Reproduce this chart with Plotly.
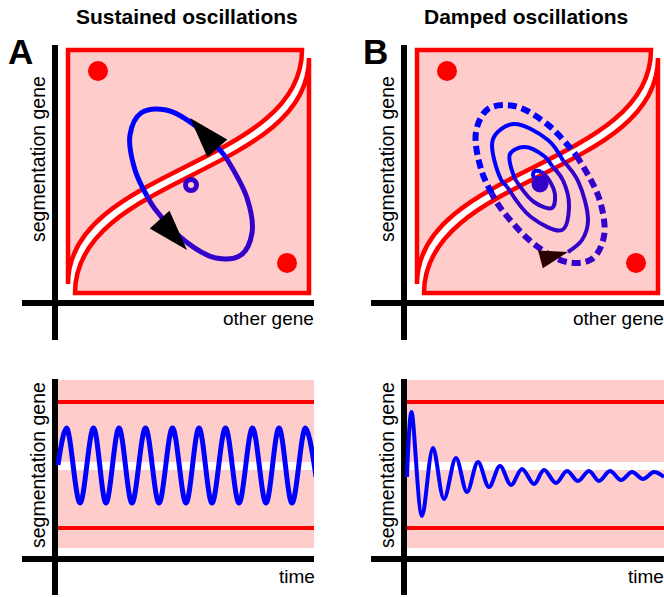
import plotly.graph_objects as go

W, H = 664, 597

# ---------------- data (arbitrary expression units, origin at the axes crossing) ----------------
# Phase-plane regions split by the nullcline: [corner, start, ctrl1, ctrl2, end] of a cubic curve
UPPER_REGION_X = [13, 247, 247, 13, 13]
UPPER_REGION_Y = [253, 253, 136.5, 135.5, 19]
LOWER_REGION_X = [254, 254, 254, 20, 20]
LOWER_REGION_Y = [10, 245, 128.5, 127.5, 10]
STABLE_STATE_X = [43, 232]
STABLE_STATE_Y = [232, 40]

# Panel A: limit cycle (part above nullcline / part below nullcline)
CYCLE_A_UPPER_X = [92, 80, 75, 86, 111, 142, 170]
CYCLE_A_UPPER_Y = [107, 133, 168, 190, 193, 176, 147]
CYCLE_A_LOWER_X = [170, 192, 197, 186, 161, 130, 100, 92]
CYCLE_A_LOWER_Y = [147, 105, 70, 48, 45, 62, 94, 107]
FIXED_A_X = [136]
FIXED_A_Y = [118]
ARROW_A_X = [135, 132]
ARROW_A_Y = [185, 53]
ARROW_A_ANGLE = [-42, 138]

# Panel B: dashed (unstable) cycle and solid spiral to the stable focus
DASHED_B_UPPER_X = [88, 77, 72, 84, 110, 143, 172]
DASHED_B_UPPER_Y = [109, 134, 171, 194, 197, 179, 148]
DASHED_B_LOWER_X = [172, 195, 200, 188, 163, 130, 98, 88]
DASHED_B_LOWER_Y = [148, 105, 67, 44, 41, 59, 93, 109]
SPIRAL_SEGMENTS = [  # (x list, y list, above_nullcline)
    ([164, 178, 184, 174, 159], [51, 63, 82, 122, 142.5], False),
    ([159, 144, 109, 89, 97, 103], [142.5, 163, 179, 164, 123.5, 116.5], True),
    ([103, 127, 158, 165, 159, 148], [116.5, 86, 73, 96, 122.5, 137], False),
    ([148, 140, 120, 106, 111], [137, 147, 156, 149, 124], True),
    ([111, 130, 148, 151, 145, 137], [124, 101, 95, 108, 123, 131.5], False),
    ([137, 131, 129, 133], [131.5, 132, 128, 122], True),
]
FIXED_B_X = [136]
FIXED_B_Y = [119]
ARROW_B_X = [164]
ARROW_B_Y = [51]
ARROW_B_ANGLE = [75]

# Time courses
SUSTAINED_T = [3, 11.5, 25, 38.5, 51, 64, 77, 90.5, 104, 117.5, 131, 144, 157, 170.5,
               184, 197.5, 211, 224, 237, 250.5, 261]
SUSTAINED_LEVEL = [94, 131, 56, 131, 56, 131, 56, 131, 56, 131, 56, 131, 56, 131,
                   56, 131, 56, 131, 56, 131, 82]
DAMPED_T = [3, 7.5, 18, 29, 40, 52, 63, 74, 85, 96, 107, 118, 130, 140, 152, 163,
            174, 185, 195, 206, 217, 228, 239, 250, 260]
DAMPED_LEVEL = [82, 147, 43, 111, 60, 101, 67, 97, 72, 93, 74, 90, 75, 89, 76, 88,
                78, 88, 78, 88, 79, 87, 80, 87, 82]
THRESHOLD_LEVELS = [157, 31]
PINK_BAND = [11, 179]
WHITE_BAND = [89, 97]

# ---------------- styles ----------------
PINK = "#ffcccc"
RED = "#ff0000"
BLUE = "#0000ff"
INDIGO = "#3300cc"
FONT = "Liberation Sans, Arial, sans-serif"

# panel geometry in pixels: (x0, x1, y0, y1, origin_x, origin_y)
PANELS = {
    "A_phase": ("x", "y", (22, 314, 45, 340, 55, 303)),
    "B_phase": ("x2", "y2", (371, 664, 45, 340, 404, 303)),
    "A_time": ("x3", "y3", (22, 314, 379, 595, 55, 559)),
    "B_time": ("x4", "y4", (371, 664, 379, 595, 404, 559)),
}

fig = go.Figure()
layout_axes = {}
for key, (xa, ya, (x0, x1, y0, y1, ox, oy)) in PANELS.items():
    xname = "xaxis" + xa[1:]
    yname = "yaxis" + ya[1:]
    common = dict(showgrid=False, showticklabels=False, ticks="", showline=False,
                  zeroline=True, zerolinecolor="black", zerolinewidth=5.5,
                  fixedrange=True, layer="above traces")
    layout_axes[xname] = dict(domain=[x0 / W, x1 / W], range=[x0 - ox, x1 - ox],
                              anchor=ya, **common)
    layout_axes[yname] = dict(domain=[(H - y1) / H, (H - y0) / H], range=[oy - y1, oy - y0],
                              anchor=xa, **common)

shapes = []


def region_path(xs, ys):
    return (f"M{xs[0]},{ys[0]} L{xs[1]},{ys[1]} "
            f"C{xs[2]},{ys[2]} {xs[3]},{ys[3]} {xs[4]},{ys[4]} Z")


def spline(xa, ya, x, y, color, width, dash=None):
    fig.add_trace(go.Scatter(x=x, y=y, xaxis=xa, yaxis=ya, mode="lines",
                             line=dict(color=color, width=width, shape="spline",
                                       smoothing=1, dash=dash),
                             hoverinfo="skip", showlegend=False))


for key in ("A_phase", "B_phase"):
    xa, ya, _ = PANELS[key]
    for xs, ys in ((UPPER_REGION_X, UPPER_REGION_Y), (LOWER_REGION_X, LOWER_REGION_Y)):
        shapes.append(dict(type="path", xref=xa, yref=ya, path=region_path(xs, ys),
                           fillcolor=PINK, line=dict(color=RED, width=4.5), layer="below"))
    fig.add_trace(go.Scatter(x=STABLE_STATE_X, y=STABLE_STATE_Y, xaxis=xa, yaxis=ya,
                             mode="markers", marker=dict(color=RED, size=20),
                             hoverinfo="skip", showlegend=False))

# Panel A phase plane
spline("x", "y", CYCLE_A_UPPER_X, CYCLE_A_UPPER_Y, BLUE, 5)
spline("x", "y", CYCLE_A_LOWER_X, CYCLE_A_LOWER_Y, INDIGO, 5)
fig.add_trace(go.Scatter(x=FIXED_A_X, y=FIXED_A_Y, xaxis="x", yaxis="y", mode="markers",
                         marker=dict(symbol="circle-open", size=11, color=INDIGO,
                                     line=dict(width=5, color=INDIGO)),
                         hoverinfo="skip", showlegend=False))
fig.add_trace(go.Scatter(x=ARROW_A_X, y=ARROW_A_Y, xaxis="x", yaxis="y", mode="markers",
                         marker=dict(symbol="arrow", size=43, color="black",
                                     angle=ARROW_A_ANGLE, line=dict(width=0)),
                         hoverinfo="skip", showlegend=False))

# Panel B phase plane
spline("x2", "y2", DASHED_B_UPPER_X, DASHED_B_UPPER_Y, BLUE, 6, dash="9px,5px")
spline("x2", "y2", DASHED_B_LOWER_X, DASHED_B_LOWER_Y, INDIGO, 6, dash="9px,5px")
for sx, sy, above in SPIRAL_SEGMENTS:
    spline("x2", "y2", sx, sy, BLUE if above else INDIGO, 4)
fig.add_trace(go.Scatter(x=FIXED_B_X, y=FIXED_B_Y, xaxis="x2", yaxis="y2", mode="markers",
                         marker=dict(size=17, color=INDIGO),
                         hoverinfo="skip", showlegend=False))
fig.add_trace(go.Scatter(x=ARROW_B_X, y=ARROW_B_Y, xaxis="x2", yaxis="y2", mode="markers",
                         marker=dict(symbol="arrow", size=30, color="#2a0000",
                                     angle=ARROW_B_ANGLE, line=dict(width=0)),
                         hoverinfo="skip", showlegend=False))

# Time courses
for key, t, lev, tend in (("A_time", SUSTAINED_T, SUSTAINED_LEVEL, 261),
                          ("B_time", DAMPED_T, DAMPED_LEVEL, 262)):
    xa, ya, _ = PANELS[key]
    shapes.append(dict(type="rect", xref=xa, yref=ya, x0=0, x1=tend, y0=PINK_BAND[0],
                       y1=PINK_BAND[1], fillcolor=PINK, line=dict(width=0), layer="below"))
    shapes.append(dict(type="rect", xref=xa, yref=ya, x0=0, x1=tend, y0=WHITE_BAND[0],
                       y1=WHITE_BAND[1], fillcolor="white", line=dict(width=0), layer="below"))
    for lvl in THRESHOLD_LEVELS:
        shapes.append(dict(type="line", xref=xa, yref=ya, x0=3, x1=tend - 2, y0=lvl, y1=lvl,
                           line=dict(color=RED, width=4), layer="below"))
    spline(xa, ya, t, lev, BLUE, 5 if key == "A_time" else 4)

# ---------------- text ----------------
ann = []


def txt(text, px, py, size, xanchor="center", angle=0, bold=False):
    ann.append(dict(text=f"<b>{text}</b>" if bold else text, x=px / W, y=(H - py) / H,
                    xref="paper", yref="paper", xanchor=xanchor, yanchor="middle",
                    showarrow=False, textangle=angle,
                    font=dict(family=FONT, size=size, color="black")))


txt("Sustained oscillations", 186.5, 17, 21, bold=True)
txt("Damped oscillations", 525.5, 17, 21, bold=True)
txt("A", 20, 51, 35, bold=True)
txt("B", 375.5, 51, 35, bold=True)
txt("other gene", 316, 318, 19, xanchor="right")
txt("other gene", 666, 318, 19, xanchor="right")
txt("time", 317, 576, 19, xanchor="right")
txt("time", 666, 576, 19, xanchor="right")
for cx, cy in ((38, 159), (387, 159), (38, 465), (387, 465)):
    txt("segmentation gene", cx, cy, 19.5, angle=-90)

fig.update_layout(width=W, height=H, margin=dict(l=0, r=0, t=0, b=0), autosize=False,
                  paper_bgcolor="white", plot_bgcolor="rgba(0,0,0,0)", showlegend=False,
                  shapes=shapes, annotations=ann, **layout_axes)

fig.write_html("out.html", config={"displayModeBar": False, "staticPlot": True},
               post_script="document.body.style.margin='0';document.body.style.overflow='hidden';")
